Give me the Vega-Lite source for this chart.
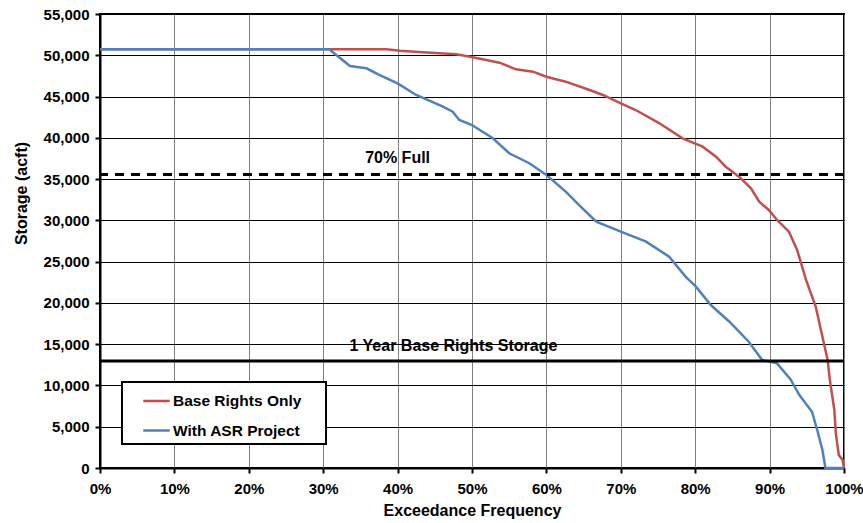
{
  "$schema": "https://vega.github.io/schema/vega-lite/v6.json",
  "width": 744,
  "height": 454,
  "autosize": {"type": "none"},
  "padding": {"left": 100, "top": 14, "right": 19, "bottom": 55},
  "background": "white",
  "config": {
    "font": "Liberation Sans",
    "view": {"stroke": "black", "strokeWidth": 2},
    "axis": {
      "labelFont": "Liberation Sans", "labelFontWeight": "bold", "labelFontSize": 15, "labelColor": "black",
      "titleFont": "Liberation Sans", "titleFontWeight": "bold", "titleFontSize": 16, "titleColor": "black",
      "domainColor": "black", "domainWidth": 2, "tickColor": "black", "tickWidth": 2, "tickSize": 5
    }
  },
  "datasets": {
    "curves": [
      {"series": "Base Rights Only", "x": 0, "y": 50720},
      {"series": "Base Rights Only", "x": 38.5, "y": 50720},
      {"series": "Base Rights Only", "x": 40.3, "y": 50560},
      {"series": "Base Rights Only", "x": 43.4, "y": 50360},
      {"series": "Base Rights Only", "x": 47.9, "y": 50120},
      {"series": "Base Rights Only", "x": 50.1, "y": 49750},
      {"series": "Base Rights Only", "x": 53.7, "y": 49100},
      {"series": "Base Rights Only", "x": 55.9, "y": 48300},
      {"series": "Base Rights Only", "x": 58.2, "y": 48010},
      {"series": "Base Rights Only", "x": 60.0, "y": 47400},
      {"series": "Base Rights Only", "x": 62.6, "y": 46800},
      {"series": "Base Rights Only", "x": 65.8, "y": 45790},
      {"series": "Base Rights Only", "x": 67.6, "y": 45190},
      {"series": "Base Rights Only", "x": 70.0, "y": 44180},
      {"series": "Base Rights Only", "x": 72.0, "y": 43370},
      {"series": "Base Rights Only", "x": 75.2, "y": 41760},
      {"series": "Base Rights Only", "x": 78.3, "y": 39940},
      {"series": "Base Rights Only", "x": 81.0, "y": 38930},
      {"series": "Base Rights Only", "x": 82.8, "y": 37720},
      {"series": "Base Rights Only", "x": 84.1, "y": 36500},
      {"series": "Base Rights Only", "x": 85.9, "y": 35290},
      {"series": "Base Rights Only", "x": 87.5, "y": 33890},
      {"series": "Base Rights Only", "x": 88.6, "y": 32260},
      {"series": "Base Rights Only", "x": 89.9, "y": 31260},
      {"series": "Base Rights Only", "x": 91.0, "y": 30050},
      {"series": "Base Rights Only", "x": 92.6, "y": 28630},
      {"series": "Base Rights Only", "x": 93.7, "y": 26410},
      {"series": "Base Rights Only", "x": 94.9, "y": 22780},
      {"series": "Base Rights Only", "x": 96.2, "y": 19540},
      {"series": "Base Rights Only", "x": 97.1, "y": 15910},
      {"series": "Base Rights Only", "x": 97.8, "y": 13080},
      {"series": "Base Rights Only", "x": 98.1, "y": 10660},
      {"series": "Base Rights Only", "x": 98.7, "y": 7030},
      {"series": "Base Rights Only", "x": 98.9, "y": 4200},
      {"series": "Base Rights Only", "x": 99.3, "y": 1570},
      {"series": "Base Rights Only", "x": 99.8, "y": 970},
      {"series": "Base Rights Only", "x": 100, "y": 0},
      {"series": "With ASR Project", "x": 0, "y": 50720},
      {"series": "With ASR Project", "x": 30.8, "y": 50720},
      {"series": "With ASR Project", "x": 33.6, "y": 48700},
      {"series": "With ASR Project", "x": 35.8, "y": 48420},
      {"series": "With ASR Project", "x": 37.6, "y": 47600},
      {"series": "With ASR Project", "x": 40.0, "y": 46600},
      {"series": "With ASR Project", "x": 42.5, "y": 45190},
      {"series": "With ASR Project", "x": 46.1, "y": 43770},
      {"series": "With ASR Project", "x": 47.4, "y": 43170},
      {"series": "With ASR Project", "x": 48.3, "y": 42160},
      {"series": "With ASR Project", "x": 50.0, "y": 41550},
      {"series": "With ASR Project", "x": 52.8, "y": 39940},
      {"series": "With ASR Project", "x": 55.0, "y": 38130},
      {"series": "With ASR Project", "x": 57.7, "y": 36920},
      {"series": "With ASR Project", "x": 60.0, "y": 35500},
      {"series": "With ASR Project", "x": 62.6, "y": 33480},
      {"series": "With ASR Project", "x": 64.4, "y": 31860},
      {"series": "With ASR Project", "x": 66.7, "y": 29840},
      {"series": "With ASR Project", "x": 70.0, "y": 28630},
      {"series": "With ASR Project", "x": 73.4, "y": 27420},
      {"series": "With ASR Project", "x": 76.5, "y": 25600},
      {"series": "With ASR Project", "x": 78.7, "y": 23180},
      {"series": "With ASR Project", "x": 80.1, "y": 21970},
      {"series": "With ASR Project", "x": 82.1, "y": 19740},
      {"series": "With ASR Project", "x": 84.6, "y": 17720},
      {"series": "With ASR Project", "x": 87.2, "y": 15300},
      {"series": "With ASR Project", "x": 89.0, "y": 13080},
      {"series": "With ASR Project", "x": 91.0, "y": 12680},
      {"series": "With ASR Project", "x": 92.8, "y": 10760},
      {"series": "With ASR Project", "x": 94.0, "y": 8840},
      {"series": "With ASR Project", "x": 95.7, "y": 6820},
      {"series": "With ASR Project", "x": 96.4, "y": 4600},
      {"series": "With ASR Project", "x": 97.1, "y": 2180},
      {"series": "With ASR Project", "x": 97.5, "y": 0},
      {"series": "With ASR Project", "x": 100, "y": 0}
    ],
    "refs": [
      {"name": "70% Full", "y": 35560, "dashed": true},
      {"name": "1 Year Base Rights Storage", "y": 12960, "dashed": false}
    ],
    "notes": [
      {"label": "70% Full", "x": 40, "y": 37600},
      {"label": "1 Year Base Rights Storage", "x": 47.5, "y": 14800}
    ]
  },
  "layer": [
    {
      "data": {"name": "curves"},
      "transform": [{"filter": "datum.series === 'Base Rights Only'"}],
      "mark": {"type": "line", "strokeWidth": 2.5, "interpolate": "linear"},
      "encoding": {
        "x": {
          "field": "x", "type": "quantitative",
          "scale": {"domain": [0, 100], "nice": false},
          "axis": {
            "title": "Exceedance Frequency",
            "values": [0, 10, 20, 30, 40, 50, 60, 70, 80, 90, 100],
            "labelExpr": "datum.value + '%'",
            "grid": true, "gridColor": "#808080", "gridWidth": 1,
            "labelPadding": 8, "titlePadding": 6, "labelFlush": false
          }
        },
        "y": {
          "field": "y", "type": "quantitative",
          "scale": {"domain": [0, 55000], "nice": false},
          "axis": {
            "title": "Storage (acft)",
            "values": [0, 5000, 10000, 15000, 20000, 25000, 30000, 35000, 40000, 45000, 50000, 55000],
            "format": ",d",
            "grid": true, "gridColor": "black", "gridWidth": 1,
            "labelPadding": 6, "labelFlush": false,
            "titleX": -79, "titleY": 179, "titleAlign": "center", "titleBaseline": "middle", "titleAngle": 270
          }
        },
        "color": {
          "field": "series", "type": "nominal",
          "scale": {"domain": ["Base Rights Only", "With ASR Project"], "range": ["#C0504D", "#4F81BD"]},
          "legend": {
            "title": "\u200b",
            "titleOrient": "right",
            "titlePadding": 20,
            "titleFontSize": 2,
            "orient": "none",
            "legendX": 22,
            "legendY": 368,
            "direction": "vertical",
            "fillColor": "white",
            "strokeColor": "black",
            "padding": 4.5,
            "symbolOffset": 15.5,
            "symbolType": "stroke",
            "symbolSize": 700,
            "symbolStrokeWidth": 2.5,
            "labelFont": "Liberation Sans",
            "labelFontWeight": "bold",
            "labelFontSize": 15.5,
            "labelColor": "black",
            "rowPadding": 6.5,
            "labelOffset": 2,
            "labelLimit": 400,
            "encode": {
              "legend": {"update": {"strokeWidth": {"value": 2}}}
            }
          }
        }
      }
    },
    {
      "data": {"name": "curves"},
      "transform": [{"filter": "datum.series === 'With ASR Project'"}],
      "mark": {"type": "line", "strokeWidth": 2.5, "interpolate": "linear"},
      "encoding": {
        "x": {"field": "x", "type": "quantitative"},
        "y": {"field": "y", "type": "quantitative"},
        "color": {"field": "series", "type": "nominal"}
      }
    },
    {
      "data": {"name": "refs"},
      "transform": [{"filter": "datum.dashed"}],
      "mark": {"type": "rule", "color": "black", "strokeWidth": 3, "strokeDash": [9, 7]},
      "encoding": {"y": {"field": "y", "type": "quantitative"}}
    },
    {
      "data": {"name": "refs"},
      "transform": [{"filter": "!datum.dashed"}],
      "mark": {"type": "rule", "color": "black", "strokeWidth": 3},
      "encoding": {"y": {"field": "y", "type": "quantitative"}}
    },
    {
      "data": {"name": "notes"},
      "mark": {"type": "text", "font": "Liberation Sans", "fontWeight": "bold", "fontSize": 16, "color": "black", "align": "center", "baseline": "middle"},
      "encoding": {
        "x": {"field": "x", "type": "quantitative"},
        "y": {"field": "y", "type": "quantitative"},
        "text": {"field": "label"}
      }
    }
  ]
}
